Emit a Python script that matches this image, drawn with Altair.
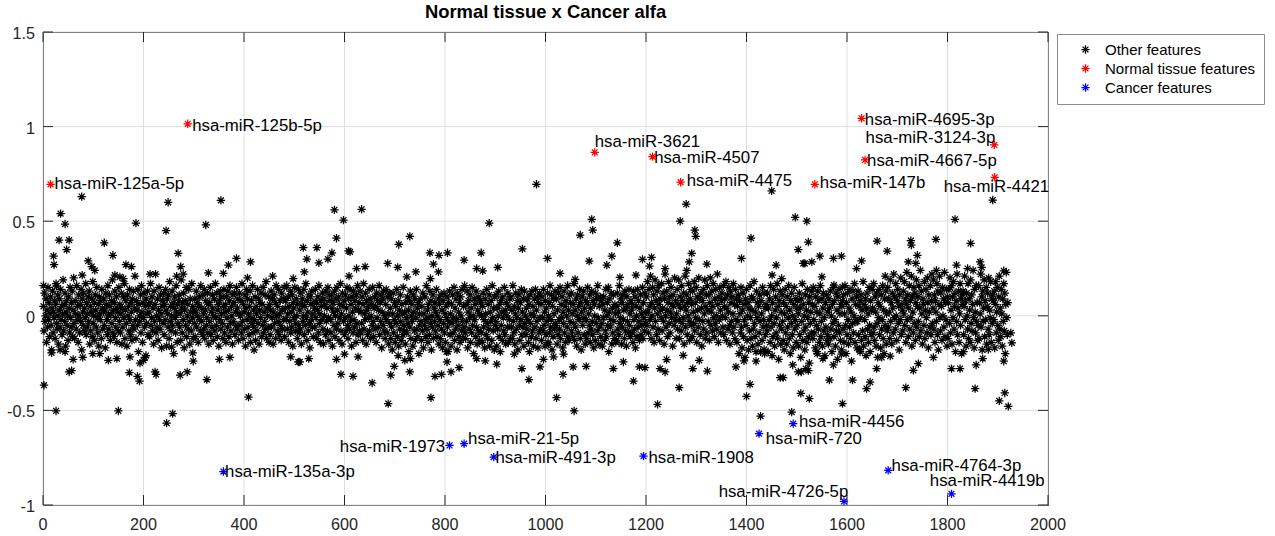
import altair as alt
import pandas as pd

# ---------------------------------------------------------------------------
# Data
# ---------------------------------------------------------------------------
# Central band of "other" features, one value per feature index (1, 2, 3, ...),
# stored in hundredths of the plotted value.
other_band = [
    5, -8, 12, -3, 0, 9, -14, 3, -6, 15, -2, 7, -11, 1, 10, -5, -18, 4, 13, -9, 2, -1, 8, -12, 6, 17, -4, -7, 11, 0,
    -15, 3, 9, -6, 14, -2, 5, -10, 1, 19, -8, 6, -3, 12, -16, 2, 8, -5, 0, -13, 10, 4, -9, 15, -1, -6, 7, 13, -11, 3,
    20, -4, -12, 8, 1, -7, 16, -2, 5, -14, 11, 0, -9, 6, -3, 14, -18, 9, 2, -5, 12, -8, 4, -1, 17, -10, 7, -6, 1, 10,
    -3, 13, -15, 5, -8, 2, 9, -11, 18, -4, 0, 7, -13, 11, 3, -6, 15, -1, -9, 6, -16, 10, 1, -2, 8, -12, 14, 4, -7, 2,
    9, -5, 3, -17, 12, 6, -2, -10, 16, 0, -7, 11, 5, -13, 1, 8, -4, 19, -9, 3, -11, 7, 13, -1, -6, 10, -14, 4, 2, -8,
    15, -3, 6, -9, 1, 12, -15, 4, -6, 10, -1, 17, -12, 3, 8, -4, -16, 11, 0, 5, -8, 14, -2, -10, 7, 2, -13, 9, -5, 13,
    -7, 4, 21, -2, -12, 8, 3, -5, 14, -19, 6, 0, -3, 11, -9, 16, 2, -14, 7, -1, 12, -6, -22, 5, 9, -4, 1, 13, -10, 6,
    2, -11, 7, 17, -5, -1, 10, -8, 4, -15, 13, -3, 6, 22, -9, 0, -6, 9, -13, 3, 15, -2, -7, 11, 1, -17, 5, 8, -4, 12,
    -10, 6, -2, 14, 3, -16, 9, 1, -6, 11, -12, 18, -3, 5, -8, 0, 13, -5, 7, -20, 4, 10, -1, -9, 16, 2, -14, 6, -4, 8,
    11, -6, 1, -13, 19, 4, -9, 7, -2, 12, -17, 3, 8, -5, 15, -11, 0, 6, -7, 14, -3, -15, 9, 2, -8, 17, -1, 5, -12, 3,
    -4, 9, -11, 2, 13, -6, 0, 7, -14, 5, 10, -2, -8, 16, -3, 4, -10, 11, 1, -7, 14, -12, 3, 8, -5, -1, 12, -9, 6, -15,
    7, -3, 15, -10, 2, -6, 11, 4, -13, 0, 9, -8, 17, -1, -5, 12, -11, 3, 6, -16, 8, -2, 13, -7, 1, 10, -4, -12, 5, 14,
    -9, 2, 6, -14, 10, -1, -6, 13, 3, -11, 8, 16, -4, -8, 5, 0, -15, 11, -3, 7, 12, -10, 2, -5, 15, -7, 4, 9, -13, 1,
    12, -5, 0, 8, -9, 17, -3, -12, 6, 2, -7, 11, -16, 4, 14, -2, 9, -6, 1, -10, 5, 13, -14, -1, 8, -4, 16, -9, 3, -6,
    -2, 10, -13, 5, 1, -8, 14, -4, 9, -15, 3, 7, -1, 12, -11, 6, -5, 15, -9, 2, -3, 11, -7, 18, -12, 4, 0, -6, 10, -14,
    6, -10, 3, 13, -6, -1, 9, -15, 2, 11, -4, 7, -12, 16, 0, -8, 5, -3, 14, -10, 1, 8, -5, -13, 12, 3, -7, 9, -2, 15,
    -11, 4, 8, -2, 16, -7, 1, 10, -14, 5, -3, 13, -9, 2, -6, 11, -16, 7, 4, -1, 15, -8, -4, 9, 0, -12, 6, 14, -5, -9,
    3, -7, 12, -15, 6, 9, -3, 0, 14, -10, 5, -5, 17, -1, -13, 8, 2, -8, 11, -4, -17, 10, 6, -2, 13, -6, 1, -11, 7, 4,
    -6, 14, -1, 7, -12, 3, 10, -9, 16, -4, 1, -14, 8, 5, -2, 12, -7, -15, 9, 0, 6, -10, 13, -3, 4, -8, 15, -1, -13, 11,
    8, -2, -9, 11, 4, -16, 7, 2, -5, 13, -11, 0, 9, -7, 15, 3, -4, 10, -13, 6, -1, 17, -8, 1, -15, 12, 5, -3, 8, -10,
    -1, 11, -8, 4, 15, -5, -12, 9, 0, -7, 14, -3, 6, -16, 10, 2, -9, 13, -2, -6, 8, 4, -14, 11, -4, 16, -10, 3, 7, -8,
    13, -9, 2, -4, 10, -13, 6, 17, -7, 1, -2, 12, -15, 8, 3, -10, 5, -1, 14, -8, 9, -12, 0, 6, -5, 15, -3, -11, 4, 10,
    -7, 5, -14, 12, -1, 8, -6, 3, 16, -10, 7, -3, 11, -17, 2, 9, -5, 13, -8, 0, -12, 6, 14, -2, -9, 10, 1, -15, 12, -4,
    4, -12, 9, -6, -18, 1, 12, -9, -2, 7, -14, 5, -4, 14, -11, 0, 8, -16, 3, -7, 11, -3, -13, 6, 1, -10, 15, -5, -8, 2,
    -15, 7, -1, -9, 10, -4, 3, -19, 8, -6, 13, -12, 0, 6, -3, -16, 11, 2, -8, 9, -13, -1, 14, -7, 4, -11, 7, -20, 1, -5,
    9, -3, -13, 5, -8, 12, -17, 1, -5, 10, -2, -11, 16, -7, 3, -14, 6, -1, -10, 13, -4, 8, -18, 0, -6, 11, -12, 4, -3, 7,
    -8, 2, 14, -11, 0, -5, 9, -15, 6, -2, -12, 11, -7, 3, -17, 8, -4, 12, -9, 1, -14, 5, -1, 10, -6, -19, 7, -3, 13, -10,
    1, -16, 6, -4, 11, -9, -1, 15, -13, 4, -7, 9, -2, -18, 12, -5, 2, -11, 7, -14, 10, 0, -8, 14, -3, -12, 5, -6, 16, -9,
    -12, 6, -3, 13, -17, 2, 8, -7, -1, 11, -14, 4, -9, 15, -5, 0, -20, 9, -2, 6, -11, 13, -6, -15, 3, 10, -8, 1, -13, 8,
    7, -9, 0, -14, 5, 12, -6, -2, -17, 9, 1, -10, 14, -4, -12, 6, -7, 11, -16, 2, -3, 8, -13, 16, -1, -8, 4, -18, 10, -5,
    -3, 11, -16, 4, -7, 0, 13, -11, 6, -19, 8, -5, 2, -13, 10, -1, -8, 15, -10, 3, -15, 7, 0, -6, 12, -14, 5, -2, 9, -12,
    10, -6, 3, -12, 16, -3, -9, 5, -15, 1, 12, -7, -1, 8, -18, 4, 11, -5, -13, 7, -2, 14, -10, 2, -6, 9, -16, 13, -4, 0,
    -10, 4, -7, 9, -2, -14, 6, -19, 11, -4, 1, -11, 13, -8, 5, -16, 0, 9, -6, 14, -12, 3, -3, 10, -17, 7, -9, 12, -1, -7,
    6, -13, 10, -1, -8, 14, -5, 2, -16, 8, -10, 4, -3, 12, -14, 0, 7, -9, 16, -6, -2, 11, -18, 5, -11, 9, 1, -7, 13, -4,
    -5, 9, -15, 3, -10, 12, -2, -7, 15, -12, 6, -1, 10, -17, 2, -4, 13, -9, 5, -14, 8, 0, -6, 16, -11, 3, -13, 11, -3, 7,
    12, -8, 1, -11, 6, -4, 17, -13, 3, -6, 9, -16, 0, 11, -9, 5, -2, 14, -12, 7, -18, 2, 10, -5, -1, 13, -10, 4, -15, 8,
    -2, -12, 7, 15, -9, 1, -5, 11, -14, 4, -7, 13, -3, -10, 8, -17, 6, 0, -13, 12, -4, 9, -8, 16, -1, -15, 5, -6, 10, -11,
    8, -4, -16, 6, -1, 10, -13, 3, -8, 14, -11, 0, 7, -5, 15, -19, 2, 9, -6, -2, 12, -15, 4, -9, 11, -3, -12, 6, 1, -14,
    -13, 5, 12, -7, 2, -10, 16, -4, -1, 9, -15, 7, -6, 11, -2, 3, -12, 13, -8, 4, -16, 10, -3, 6, -9, 14, -5, 1, -11, 8,
    3, -9, 6, -14, 13, -2, -7, 10, -17, 5, 0, -11, 14, -6, 8, -3, -13, 4, 11, -10, 1, -5, 15, -12, 7, -1, -8, 12, -4, 2,
    10, -5, 18, 2, -9, 14, 5, -2, 21, -12, 7, 0, 15, -6, 11, -14, 4, 19, -3, 8, -10, 13, 1, -7, 16, 6, -13, 9, 3, -1,
    17, -8, 4, 12, -3, -15, 9, 22, 0, -6, 13, 3, -11, 7, 18, -4, 10, -9, 2, 15, -1, 6, -16, 11, 5, -5, 20, -2, 8, -12,
    1, 14, -7, 6, 19, -2, -12, 10, 4, -8, 16, -4, 8, -1, 12, -15, 5, 21, -6, 3, 11, -10, 7, 0, 17, -3, -13, 9, 14, -5,
    6, -11, 13, 2, -4, 18, -8, 7, -1, 15, -14, 10, 3, -6, 20, -2, 9, -10, 12, 4, -16, 8, -3, 14, -7, 1, 19, -12, 5, 11,
    -9, 16, 3, -3, 11, -13, 7, 20, -5, 2, 13, -8, 5, 17, -1, -11, 9, -4, 14, 0, -7, 22, 6, -14, 10, -2, 15, 3, -9, 8,
    12, 0, -6, 16, -10, 5, 9, -1, 18, -13, 4, 11, -7, 2, 15, -5, -15, 13, 7, -3, 10, -9, 1, 17, -6, 6, -12, 14, -2, 9,
    -14, 5, -3, 11, -20, 8, 1, -9, 15, -6, -17, 3, 12, -11, 6, -2, -22, 9, -5, 14, -13, 0, 7, -18, 4, -8, 16, -1, -12, 10,
    3, -16, 9, -7, 18, -4, -11, 2, -24, 13, -1, 7, -15, 5, -9, 11, -3, -19, 8, 1, -13, 15, -6, -2, 12, -20, 4, -10, 6, -5,
    -8, 12, -19, 4, -2, 9, -14, 16, -6, 0, -21, 7, -11, 14, -4, -16, 3, 10, -9, -1, 17, -12, 5, -23, 8, -5, 13, -15, 2, -7,
    11, -3, -13, 7, -18, 1, 14, -9, 5, -15, 10, -6, -1, 16, -12, 3, -20, 8, -4, 12, -10, 0, -17, 6, 15, -7, -2, 9, -14, 4,
    -5, 8, 1, -16, 12, -10, 4, -22, 9, -3, 17, -13, 6, -8, 0, -18, 11, -6, 3, -14, 14, -1, -11, 7, -25, 10, -4, 2, -9, 13,
    6, -12, 15, -2, -9, 5, -17, 10, -5, 2, -20, 13, -7, 8, -14, 1, 16, -11, -3, 9, -16, 4, 12, -8, -1, -21, 7, -6, 11, -13,
    -10, 2, -15, 9, 4, -12, 13, -7, 0, -19, 6, -4, 15, -11, 8, -2, -16, 12, -8, 3, -23, 10, -5, 14, -9, 1, -13, 6, -18, 5,
    8, -7, 11, -14, 1, 16, -5, -20, 7, -10, 12, -2, -15, 4, -6, 14, -12, 2, -24, 9, -4, 13, -9, 0, 17, -14, 6, -3, 10, -17,
    -3, 13, -10, 5, -18, 8, -1, 11, -13, 3, -8, 18, -16, 6, -2, -11, 9, -21, 4, 12, -7, 1, -14, 15, -5, -19, 8, -10, 3, 14,
    4, -9, 17, -6, -13, 10, 2, -16, 12, -4, -22, 7, -1, 14, -10, 5, -17, 11, -7, -2, 16, -12, 3, -20, 9, -5, 13, -15, 1, -8,
    15, -6, 9, 2, -12, 19, -3, 7, -15, 12, 4, -9, 22, -1, 10, -7, 17, 0, -13, 8, 14, -4, 5, -18, 11, -2, 20, -10, 6, 3,
    -8, 13, 1, 18, -5, 9, -14, 6, 23, -2, 11, -11, 4, 16, -7, 8, -1, 21, -16, 10, 2, -9, 15, -4, 12, -13, 7, 19, -6, 5,
    10, -3, 16, -11, 4, 24, -8, 13, 1, -15, 9, 6, -5, 18, -12, 3, 14, -1, -9, 20, 7, -17, 11, 2, -6, 16, -10, 8, 22, -4,
    4, 19, -7, 11, -14, 8, 2, -3, 17, -10, 13, -18, 6, 21, -1, -8, 12, 5, -13, 15, 0, 9, -6, 23, -11, 7, -2, 14, -16, 10,
    -12, 7, 14, -4, 20, -9, 3, 16, -15, 10, -1, 18, -7, 5, 12, -19, 8, -3, 22, -10, 4, 13, -14, 1, 17, -5, 9, -20, 11, 6,
    13, -10, 5, 21, -2, 8, -16, 12, 0, -7, 17, -12, 9, 3, -14, 19, -4, 11, -8, 6, 24, -1, -17, 14, 2, -9, 16, -3, 7, -13,
    -5, 16, -12, 7, 1, 22, -6, 10, -18, 13, -3, 4, 19, -11, 8, -2, 15, -15, 5, 12, -7, 20, -10, 3, -1, 18, -14, 9, -4, 11,
    8, -2, 13, -17, 6, 18, -9, 2, 15, -5, -13, 10, 21, -7, 4, -11, 14, 1, -16, 9, -3, 17, -8, 12, -20, 6, 23, -1, -10, 7,
]

# Other features lying outside the central band: (feature index, value)
other_outer = [
    (77, 0.63), (35, 0.54), (44, 0.485), (249, 0.60), (354, 0.61), (185, 0.49), (245, 0.45), (324, 0.48),
    (32, 0.40), (52, 0.40), (47, 0.35), (122, 0.386), (21, 0.315), (22, 0.27), (139, 0.32), (90, 0.29),
    (97, 0.26), (103, 0.24), (165, 0.27), (176, 0.26), (78, 0.215), (213, 0.22), (269, 0.33), (274, 0.26),
    (143, 0.215), (153, 0.206), (160, 0.197), (266, 0.21), (279, 0.22), (329, 0.227), (359, 0.224), (369, 0.268),
    (385, 0.303), (413, 0.285), (407, 0.20), (457, 0.21), (498, 0.197), (1, 0.16), (27, 0.157),
    (2, -0.367), (26, -0.503), (150, -0.503), (246, -0.567), (258, -0.517), (409, -0.43), (52, -0.297), (57, -0.29),
    (172, -0.30), (188, -0.32), (192, -0.345), (193, -0.25), (223, -0.297), (225, -0.31), (273, -0.314), (287, -0.297),
    (326, -0.337), (256, -0.165), (299, -0.24), (298, -0.196), (351, -0.23), (372, -0.22), (17, -0.196), (34, -0.18),
    (44, -0.19), (60, -0.23), (79, -0.22), (99, -0.20), (113, -0.20), (130, -0.235), (147, -0.226), (173, -0.217),
    (200, -0.235), (205, -0.21), (420, -0.18), (493, -0.217), (508, -0.244),
    (982, 0.695), (580, 0.56), (598, 0.506), (634, 0.563), (888, 0.49), (584, 0.41), (730, 0.42), (708, 0.377),
    (518, 0.36), (545, 0.36), (525, 0.30), (549, 0.28), (567, 0.30), (575, 0.333), (520, 0.232), (608, 0.343),
    (611, 0.338), (624, 0.25), (641, 0.26), (609, 0.21), (686, 0.277), (706, 0.256), (742, 0.232), (724, 0.206),
    (770, 0.333), (788, 0.32), (805, 0.333), (777, 0.273), (787, 0.232), (771, 0.197), (838, 0.294), (872, 0.333),
    (863, 0.25), (875, 0.238), (905, 0.256), (954, 0.354), (1004, 0.303),
    (687, -0.464), (772, -0.433), (655, -0.355), (593, -0.31), (617, -0.32), (692, -0.314), (699, -0.267), (730, -0.297),
    (780, -0.32), (793, -0.31), (812, -0.297), (828, -0.274), (953, -0.279), (967, -0.337), (989, -0.27), (996, -0.23),
    (1006, -0.15), (511, -0.244), (529, -0.226), (584, -0.23), (600, -0.203), (627, -0.217), (707, -0.21), (720, -0.235),
    (731, -0.226), (803, -0.19), (804, -0.244), (863, -0.226), (880, -0.238), (903, -0.256), (938, -0.203),
    (1450, 0.66), (1280, 0.59), (1092, 0.51), (1094, 0.453), (1069, 0.427), (1268, 0.50), (1297, 0.453), (1299, 0.42),
    (1497, 0.52), (1520, 0.50), (1143, 0.386), (1409, 0.41), (1503, 0.35), (1523, 0.39), (1087, 0.289), (1122, 0.268),
    (1132, 0.315), (1193, 0.298), (1211, 0.309), (1207, 0.263), (1291, 0.33), (1286, 0.285), (1281, 0.24), (1321, 0.273),
    (1238, 0.25), (1390, 0.303), (1459, 0.268), (1516, 0.277), (1451, 0.215), (1470, 0.197), (1029, 0.224), (1059, 0.192),
    (1148, 0.203), (1180, 0.215),
    (1057, -0.503), (1022, -0.433), (1223, -0.468), (1428, -0.53), (1490, -0.509), (1266, -0.38), (1175, -0.345),
    (1035, -0.31), (1400, -0.426), (1407, -0.362), (1508, -0.41), (1525, -0.438), (1467, -0.327), (1473, -0.327),
    (1503, -0.297), (1016, -0.217), (1036, -0.203), (1055, -0.27), (1081, -0.267), (1135, -0.279), (1155, -0.244),
    (1187, -0.27), (1198, -0.274), (1228, -0.279), (1238, -0.297), (1241, -0.231), (1274, -0.209), (1293, -0.279),
    (1306, -0.235), (1322, -0.292), (1379, -0.27), (1395, -0.238), (1419, -0.19), (1435, -0.178), (1492, -0.26),
    (1509, -0.297), (1523, -0.29),
    (1890, 0.612), (1815, 0.51), (1660, 0.395), (1727, 0.397), (1728, 0.374), (1777, 0.404), (1846, 0.383),
    (1680, 0.342), (1740, 0.32), (1722, 0.285), (1737, 0.277), (1546, 0.315), (1573, 0.303), (1589, 0.315),
    (1530, 0.285), (1513, 0.277), (1629, 0.29), (1619, 0.25), (1778, 0.24), (1865, 0.285), (1868, 0.256),
    (1818, 0.268), (1840, 0.25), (1912, 0.238), (1550, 0.206), (1591, 0.153), (1574, 0.162), (1676, 0.21),
    (1591, -0.464), (1921, -0.479), (1903, -0.45), (1914, -0.408), (1855, -0.385), (1717, -0.38), (1912, -0.24),
    (1639, -0.385), (1646, -0.35), (1611, -0.34), (1565, -0.34), (1659, -0.279), (1732, -0.288), (1742, -0.253),
    (1772, -0.22), (1808, -0.279), (1825, -0.279), (1857, -0.26), (1870, -0.226), (1573, -0.26), (1589, -0.203),
    (1626, -0.19), (1669, -0.22), (1686, -0.213), (1518, -0.279), (1540, -0.19), (1552, -0.226), (1832, -0.19),
    (1881, -0.178), (1926, -0.09), (1928, -0.143),
]

normal_names = ["hsa-miR-125a-5p", "hsa-miR-125b-5p", "hsa-miR-3621", "hsa-miR-4507", "hsa-miR-4475",
                "hsa-miR-147b", "hsa-miR-4695-3p", "hsa-miR-3124-3p", "hsa-miR-4667-5p", "hsa-miR-4421"]
normal_x = [15, 288, 1098, 1213, 1269, 1536, 1629, 1893, 1636, 1894]
normal_y = [0.695, 1.015, 0.864, 0.841, 0.706, 0.695, 1.044, 0.903, 0.824, 0.732]

cancer_names = ["hsa-miR-135a-3p", "hsa-miR-1973", "hsa-miR-21-5p", "hsa-miR-491-3p", "hsa-miR-1908",
                "hsa-miR-720", "hsa-miR-4456", "hsa-miR-4764-3p", "hsa-miR-4419b", "hsa-miR-4726-5p"]
cancer_x = [359, 809, 838, 897, 1195, 1425, 1493, 1682, 1808, 1594]
cancer_y = [-0.823, -0.685, -0.676, -0.747, -0.742, -0.623, -0.570, -0.817, -0.941, -0.981]

series_names = ["Other features", "Normal tissue features", "Cancer features"]
series_colors = ["#000000", "#ff0000", "#0000ff"]

chart_title = "Normal tissue x Cancer alfa"

x_ticks = [0, 200, 400, 600, 800, 1000, 1200, 1400, 1600, 1800, 2000]
x_tick_labels = ["0", "200", "400", "600", "800", "1000", "1200", "1400", "1600", "1800", "2000"]
y_ticks = [-1, -0.5, 0, 0.5, 1, 1.5]
y_tick_labels = ["-1", "-0.5", "0", "0.5", "1", "1.5"]

# Text placement of each feature name next to its marker: (align, dx px, dy px)
label_placement = {
    "hsa-miR-125a-5p": ("left", 4, 4.5),
    "hsa-miR-125b-5p": ("left", 4.5, 7),
    "hsa-miR-3621": ("left", 0, -5.6),
    "hsa-miR-4507": ("left", 1.6, 6.6),
    "hsa-miR-4475": ("left", 6, 3.4),
    "hsa-miR-147b": ("left", 5, 4),
    "hsa-miR-4695-3p": ("left", 3.3, 6.7),
    "hsa-miR-3124-3p": ("right", 1, -1.7),
    "hsa-miR-4667-5p": ("left", 2, 5.7),
    "hsa-miR-4421": ("left", -51, 14.4),
    "hsa-miR-135a-3p": ("left", 1.7, 5),
    "hsa-miR-1973": ("right", -4.3, 6.7),
    "hsa-miR-21-5p": ("left", 4, 0),
    "hsa-miR-491-3p": ("left", 1.7, 5.6),
    "hsa-miR-1908": ("left", 5, 6.6),
    "hsa-miR-720": ("left", 6.7, 10),
    "hsa-miR-4456": ("left", 5.7, 3.4),
    "hsa-miR-4764-3p": ("left", 3.4, 1),
    "hsa-miR-4419b": ("left", -21.7, -8.3),
    "hsa-miR-4726-5p": ("right", 4.3, -4.3),
}

# ---------------------------------------------------------------------------
# Tables
# ---------------------------------------------------------------------------
rows = [{"x": i + 1, "y": v / 100, "series": series_names[0], "name": ""} for i, v in enumerate(other_band)]
rows += [{"x": px, "y": py, "series": series_names[0], "name": ""} for px, py in other_outer]
rows += [{"x": px, "y": py, "series": series_names[1], "name": n}
         for n, px, py in zip(normal_names, normal_x, normal_y)]
rows += [{"x": px, "y": py, "series": series_names[2], "name": n}
         for n, px, py in zip(cancer_names, cancer_x, cancer_y)]
points_df = pd.DataFrame(rows)

xt_df = pd.DataFrame({"v": x_ticks, "label": x_tick_labels})
yt_df = pd.DataFrame({"v": y_ticks, "label": y_tick_labels})

PLOT_W, PLOT_H = 1005, 473
TICK_LEN = 10
FONT = "Liberation Sans"
AXIS_COLOR = "#262626"
GRID_COLOR = "#dfdfdf"
ASTERISK = "M-1,0L1,0M0,-1L0,1M-0.7,-0.7L0.7,0.7M-0.7,0.7L0.7,-0.7"

xs = alt.Scale(domain=[0, 2000], nice=False, zero=False)
ys = alt.Scale(domain=[-1, 1.5], nice=False, zero=False)


def xpos(field):
    return alt.X(f"{field}:Q", scale=xs, axis=None)


def ypos(field):
    return alt.Y(f"{field}:Q", scale=ys, axis=None)


# Grid
grid_x = alt.Chart(xt_df).mark_rule(color=GRID_COLOR, strokeWidth=1).encode(
    x=xpos("v"), y=alt.value(0), y2=alt.value(PLOT_H))
grid_y = alt.Chart(yt_df).mark_rule(color=GRID_COLOR, strokeWidth=1).encode(
    y=ypos("v"), x=alt.value(0), x2=alt.value(PLOT_W))

# Scatter of all features, coloured by group
points = alt.Chart(points_df).mark_point(
    shape=ASTERISK, filled=False, size=70, strokeWidth=1.25, opacity=1
).encode(
    x=xpos("x"),
    y=ypos("y"),
    color=alt.Color(
        "series:N",
        scale=alt.Scale(domain=series_names, range=series_colors),
        legend=alt.Legend(
            title=None, orient="none", legendX=1014, legendY=2,
            symbolType=ASTERISK, symbolSize=70, symbolStrokeWidth=1.25,
            labelFont=FONT, labelFontSize=15, labelColor="#000000", labelLimit=400,
            strokeColor="#8c8c8c", fillColor="#ffffff", padding=8,
            symbolOffset=13, labelOffset=12, rowPadding=3,
        ),
    ),
)

# Inward-pointing ticks on all four sides of the box
tick_style = dict(color=AXIS_COLOR, strokeWidth=1)
ticks_bottom = alt.Chart(xt_df).mark_rule(**tick_style).encode(
    x=xpos("v"), y=alt.value(PLOT_H), y2=alt.value(PLOT_H - TICK_LEN))
ticks_top = alt.Chart(xt_df).mark_rule(**tick_style).encode(
    x=xpos("v"), y=alt.value(0), y2=alt.value(TICK_LEN))
ticks_left = alt.Chart(yt_df).mark_rule(**tick_style).encode(
    y=ypos("v"), x=alt.value(0), x2=alt.value(TICK_LEN))
ticks_right = alt.Chart(yt_df).mark_rule(**tick_style).encode(
    y=ypos("v"), x=alt.value(PLOT_W), x2=alt.value(PLOT_W - TICK_LEN))

# Tick labels
tick_text = dict(font=FONT, fontSize=16.2, color=AXIS_COLOR, baseline="alphabetic")
x_labels = alt.Chart(xt_df).mark_text(align="center", **tick_text).encode(
    x=xpos("v"), y=alt.value(PLOT_H + 25), text="label:N")
y_labels = alt.Chart(yt_df).mark_text(align="right", dy=7, **tick_text).encode(
    y=ypos("v"), x=alt.value(-8), text="label:N")

# Chart title
title = alt.Chart(pd.DataFrame({"t": [chart_title]})).mark_text(
    font=FONT, fontSize=18.4, fontWeight="bold", color="#000000",
    align="center", baseline="alphabetic",
).encode(x=alt.value(PLOT_W / 2), y=alt.value(-14), text="t:N")

# Feature names beside the highlighted markers
named = points_df[points_df["name"] != ""]
label_layers = []
for _, r in named.iterrows():
    align, dx, dy = label_placement[r["name"]]
    label_layers.append(
        alt.Chart(pd.DataFrame({"x": [float(r["x"])], "y": [float(r["y"])], "name": [r["name"]]})).mark_text(
            align=align, baseline="alphabetic", dx=dx, dy=dy,
            font=FONT, fontSize=16.8, color="#000000",
        ).encode(x=xpos("x"), y=ypos("y"), text="name:N")
    )

chart = alt.layer(
    grid_x, grid_y, points, ticks_bottom, ticks_top, ticks_left, ticks_right,
    x_labels, y_labels, title, *label_layers
).properties(
    width=PLOT_W,
    height=PLOT_H,
    background="#ffffff",
    autosize=alt.AutoSizeParams(type="none"),
    padding={"left": 43, "top": 32, "right": 227, "bottom": 31},
).configure_view(
    stroke=AXIS_COLOR, strokeWidth=1
)

chart.save("out.html", embed_options={"renderer": "svg", "actions": False})
